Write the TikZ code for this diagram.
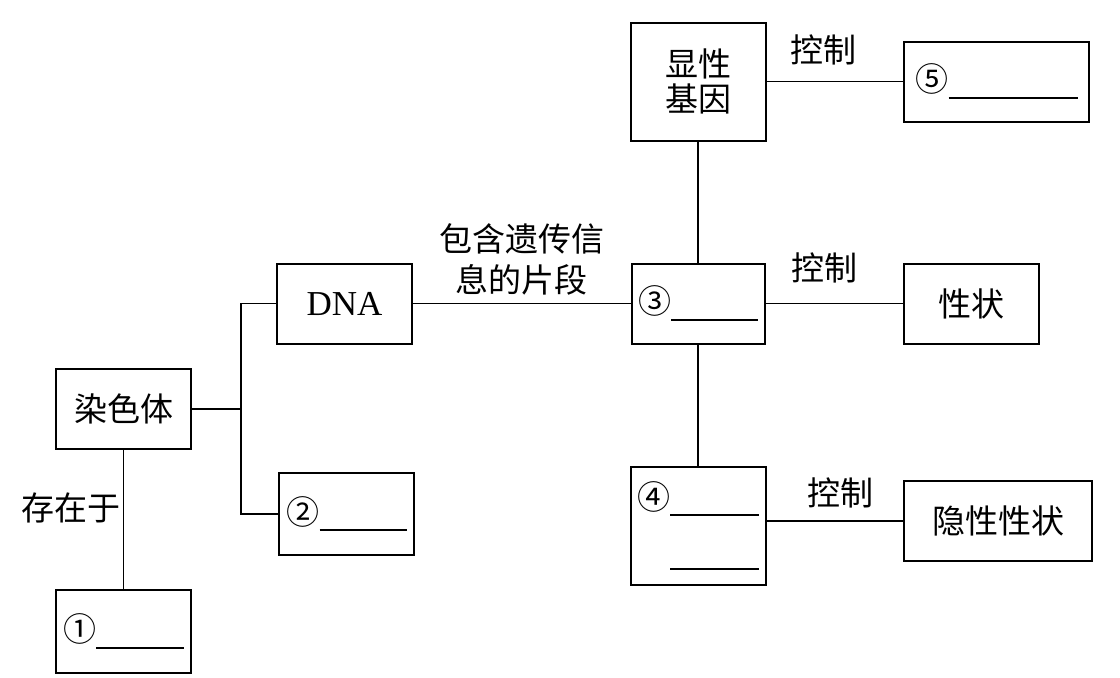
\documentclass[tikz,border=0pt]{standalone}
\usepackage{fontspec}
\setmainfont{Liberation Serif}
\newfontfamily\cjk{Noto Sans CJK SC}
\usetikzlibrary{positioning}
\newcommand{\blank}[1]{\rule[-3.5pt]{#1}{1pt}}

\begin{document}
\begin{tikzpicture}[
  x=0.5pt, y=-0.5pt,
  font=\cjk\fontsize{16.5}{20}\selectfont,
  box/.style={draw, line width=1pt, inner sep=0pt, minimum width=67.5pt, minimum height=40pt},
  link/.style={line width=0.9pt},
  lbl/.style={inner sep=0pt, align=center}
]
\useasboundingbox (0,0) rectangle (1120,677);

% left part
\node[box] (chrom) at (123.5,409) {染色体};
\node[box, minimum height=41.5pt] (one) at (123.5,631.5) {①\blank{44pt}};
\node[box] (dna) at (344.5,303.5) {\rmfamily\fontsize{17.5}{20}\selectfont DNA};
\node[box, minimum height=41pt] (two) at (346.5,514) {②\blank{43.5pt}};

% middle column
\node[box, minimum height=59pt, align=center] (dom) at (698,81.5) {显性\\[-2.5pt]基因};
\node[box, minimum width=66.5pt] (three) at (698,303.5) {③\blank{43.5pt}};
\node[box, minimum height=59pt, align=right] (four) at (698,526) {④\blank{44.5pt}\\[7pt]\blank{44.5pt}};

% right column
\node[box, minimum width=92.5pt] (five) at (996.5,81.5) {⑤\blank{64.5pt}};
\node[box] (trait) at (971.5,303.5) {性状};
\node[box, minimum width=94pt] (rec) at (998,521) {隐性性状};

% connectors
\coordinate (fork) at (241,409);
\draw[link] (chrom.east) -- (fork);
\draw[link] (fork) |- (dna.west);
\draw[link] (fork) |- (two.west);
\draw[link] (chrom) -- node[lbl, pos=0.42, left=1pt] {存在于} (one);
\draw[link] (dna) -- node[lbl, above=3.5pt] {包含遗传信\\[0.5pt]息的片段} (three);
\draw[link] (dom) -- (three);
\draw[link] (three) -- (four);
\draw[link] (dom) -- node[lbl, pos=0.42, above=8pt] {控制} (five);
\draw[link] (three) -- node[lbl, pos=0.43, above=10pt] {控制} (trait);
\draw[link] (four.east |- rec.west) -- node[lbl, pos=0.54, above=6pt] {控制} (rec.west);

\end{tikzpicture}
\end{document}
